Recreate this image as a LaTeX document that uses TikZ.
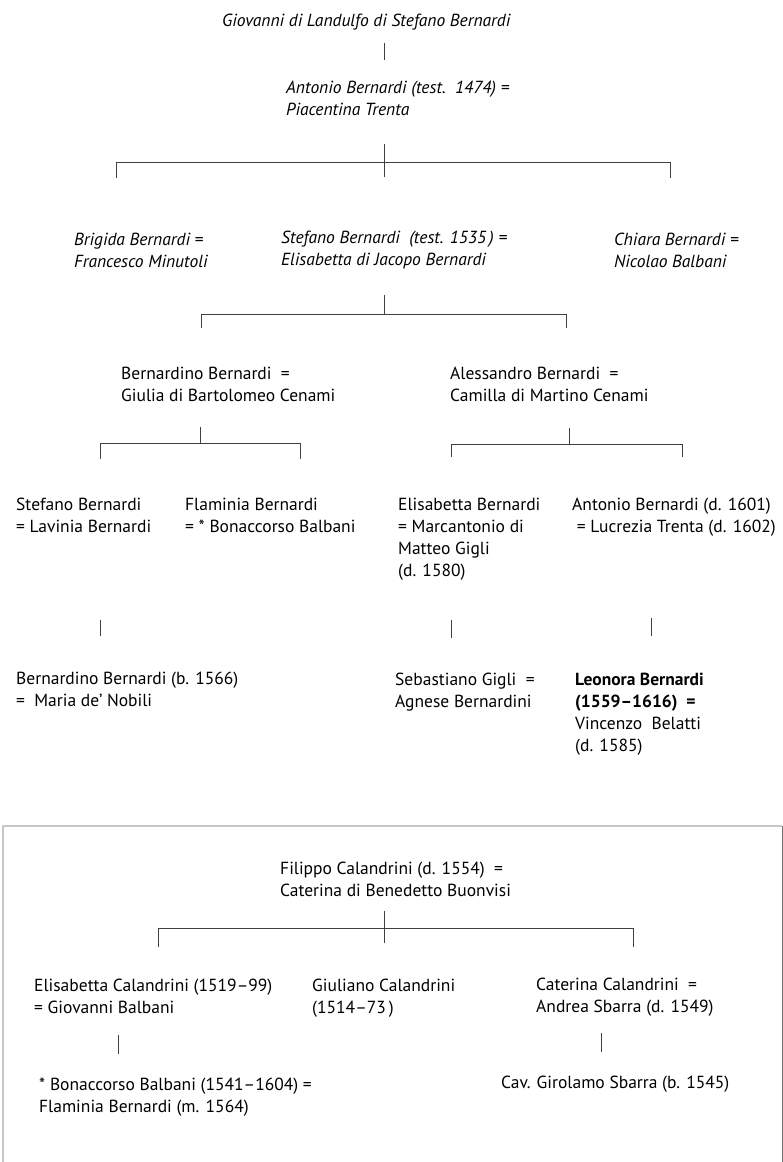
\documentclass[tikz,border=0pt]{standalone}
\usepackage{fontspec}
\setmainfont{PT Sans}
\begin{document}
\begin{tikzpicture}[x=1pt,y=-1pt]
		\tikzset{person/.style = {anchor = base west,align = left,inner sep = 0pt,font = \fontsize{17.5}{22}\selectfont},
			ital/.style = {person,font = \fontsize{17.5}{22}\selectfont\itshape},
			line/.style = {line width = 1pt,black!75},
			frame/.style = {line width = 1.6pt,black!22}}
		\useasboundingbox (0,0) rectangle (783,1162);
		% Bernardi family (nodes placed at the baseline of their last line)
		\node[ital] (giovanni) at (222,26) {Giovanni di Landulfo di Stefano Bernardi};
		\node[ital] (antonio) at (286,115) {Antonio Bernardi (test.\ \ 1474)\ =\\Piacentina Trenta};
		\node[ital] (brigida) at (74,267) {Brigida Bernardi =\\Francesco Minutoli};
		\node[ital] (stefano) at (281,265) {Stefano Bernardi\ \ (test. 1535\,) =\\Elisabetta di Jacopo Bernardi};
		\node[ital] (chiara) at (614,267) {Chiara Bernardi =\\Nicolao Balbani};
		\node[person] (bernardino) at (121,401) {Bernardino Bernardi\ \ =\\Giulia di Bartolomeo Cenami};
		\node[person] (alessandro) at (450,401) {Alessandro Bernardi\ \ =\\Camilla di Martino Cenami};
		\node[person] (stefanoB) at (16,532) {Stefano Bernardi\\= Lavinia Bernardi};
		\node[person] (flaminia) at (185,532) {Flaminia Bernardi\\= * Bonaccorso Balbani};
		\node[person] (elisabetta) at (398,576) {Elisabetta Bernardi\\= Marcantonio di\\Matteo Gigli\\(d. 1580)};
		\node[person] (antonioB) at (572,532) {Antonio Bernardi (d. 1601)\\\ = Lucrezia Trenta (d. 1602)};
		\node[person] (bernardinoB) at (16,706) {Bernardino Bernardi (b. 1566)\\=\ \ Maria de’ Nobili};
		\node[person] (sebastiano) at (395,707) {Sebastiano Gigli\ \ =\\Agnese Bernardini};
		\node[person] (leonora) at (575,751) {\textbf{Leonora Bernardi}\\\textbf{(1559–1616)\ \ =}\\Vincenzo\ \ Belatti\\(d. 1585)};
		\coordinate (g1) at (384,43);
		\coordinate (g2) at (384,60);
		\coordinate (a1) at (384,144);
		\coordinate (a2) at (384,177);
		\coordinate (al) at (116,162);
		\coordinate (ar) at (670,162);
		\coordinate (all) at (116,178);
		\coordinate (arr) at (670,178);
		\coordinate (s1) at (384,295);
		\coordinate (s2) at (384,314);
		\coordinate (sl) at (201,314);
		\coordinate (sr) at (566,314);
		\coordinate (sll) at (201,328);
		\coordinate (srr) at (566,328);
		\coordinate (b1) at (200,427);
		\coordinate (b2) at (200,443);
		\coordinate (bl) at (100,443);
		\coordinate (br) at (300,443);
		\coordinate (bll) at (100,459);
		\coordinate (brr) at (300,459);
		\coordinate (c1) at (569,428);
		\coordinate (c2) at (569,444);
		\coordinate (cl) at (451,444);
		\coordinate (cr) at (682,444);
		\coordinate (cll) at (451,457);
		\coordinate (crr) at (682,457);
		\coordinate (d1) at (100,620);
		\coordinate (d2) at (100,636);
		\coordinate (e1) at (451,620);
		\coordinate (e2) at (451,638);
		\coordinate (f1) at (651,618);
		\coordinate (f2) at (651,636);
		\draw[line] (g1) -- (g2);
		\draw[line] (a1) -- (a2);
		\draw[line] (all) -- (al) -- (ar) -- (arr);
		\draw[line] (s1) -- (s2);
		\draw[line] (sll) -- (sl) -- (sr) -- (srr);
		\draw[line] (b1) -- (b2);
		\draw[line] (bll) -- (bl) -- (br) -- (brr);
		\draw[line] (c1) -- (c2);
		\draw[line] (cll) -- (cl) -- (cr) -- (crr);
		\draw[line] (d1) -- (d2);
		\draw[line] (e1) -- (e2);
		\draw[line] (f1) -- (f2);
		% Calandrini family
		\draw[frame] (3,1162) -- (3,826) -- (782,826);
		\draw[line width = 1pt,black!55] (782,826) -- (782,1162);
		\node[person] (filippo) at (280,896) {Filippo Calandrini (d. 1554)\ \ =\\Caterina di Benedetto Buonvisi};
		\node[person] (elisabettaC) at (34,1013) {Elisabetta Calandrini (1519–99)\\= Giovanni Balbani};
		\node[person] (giuliano) at (312,1013) {Giuliano Calandrini\\(1514–73\,)};
		\node[person] (caterina) at (536,1012) {Caterina Calandrini\ \ =\\Andrea Sbarra (d. 1549)};
		\node[person] (bonaccorso) at (39,1112) {* Bonaccorso Balbani (1541–1604) =\\Flaminia Bernardi (m. 1564)};
		\node[person] (girolamo) at (501,1088) {Cav. Girolamo Sbarra (b. 1545)};
		\coordinate (p1) at (384,911);
		\coordinate (p2) at (384,943);
		\coordinate (pl) at (158,928);
		\coordinate (pr) at (633,928);
		\coordinate (pll) at (158,947);
		\coordinate (prr) at (633,947);
		\coordinate (q1) at (118,1035);
		\coordinate (q2) at (118,1054);
		\coordinate (r1) at (601,1033);
		\coordinate (r2) at (601,1052);
		\draw[line] (p1) -- (p2);
		\draw[line] (pll) -- (pl) -- (pr) -- (prr);
		\draw[line] (q1) -- (q2);
		\draw[line] (r1) -- (r2);
	\end{tikzpicture}
\end{document}
